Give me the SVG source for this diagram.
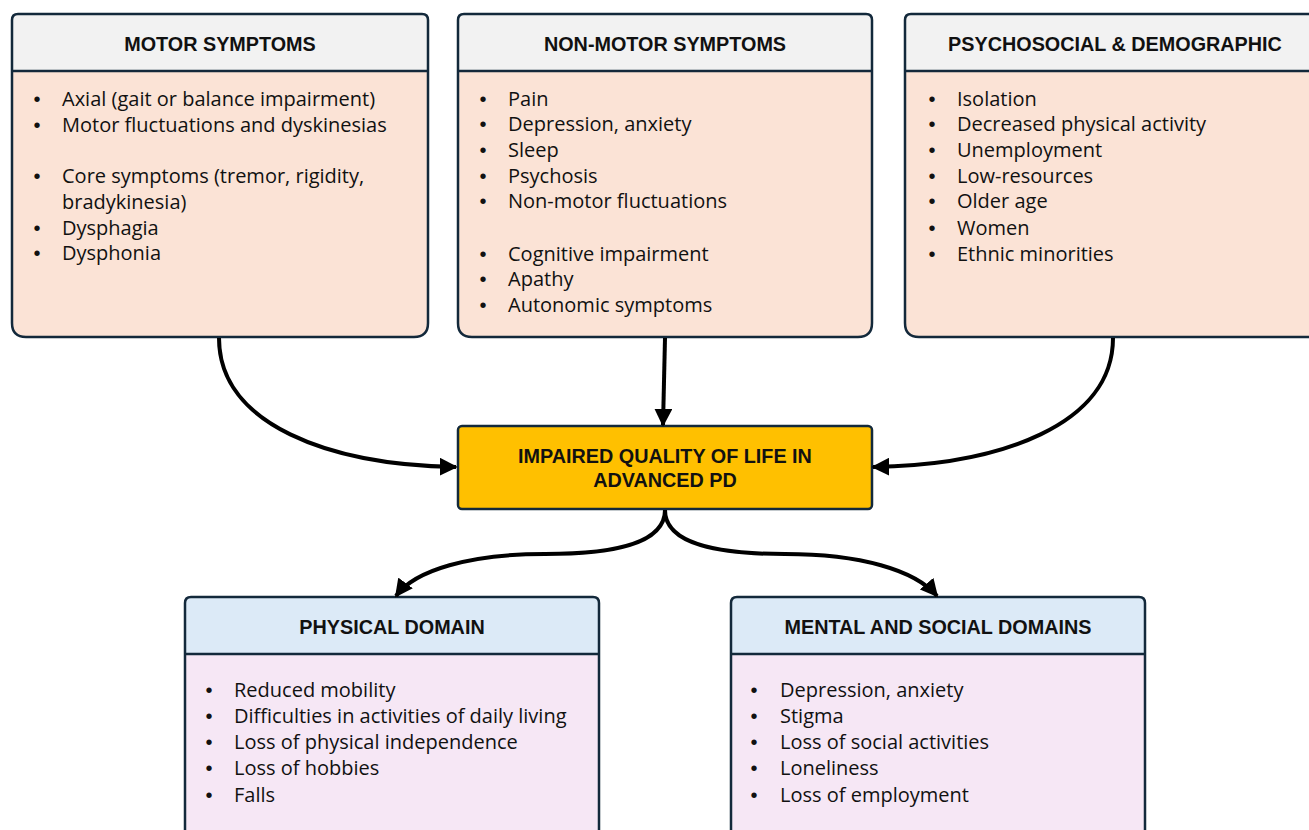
<svg xmlns="http://www.w3.org/2000/svg" width="1309" height="830" viewBox="0 0 1309 830">
<defs>
<marker id="arr" viewBox="0 0 10 10" refX="9" refY="5" markerWidth="4.5" markerHeight="4.5" orient="auto" markerUnits="strokeWidth">
<path d="M0,0 L10,5 L0,10 z" fill="#000"/>
</marker>
<style>
.frame{stroke:#13293b;stroke-width:2.5}
.hdrTop{fill:#F2F2F2}
.bodyTop{fill:#FBE3D6}
.hdrBot{fill:#DCEAF7}
.bodyBot{fill:#F6E7F5}
.title{font-family:"Liberation Sans",Arial,sans-serif;font-weight:bold;font-size:19.8px;fill:#111;text-anchor:middle}
.item{font-family:"Open Sans","Liberation Sans",sans-serif;font-size:20px;fill:#111}
.bul{font-family:"Liberation Sans",Arial,sans-serif;font-size:20px;fill:#111;text-anchor:middle}
.conn{fill:none;stroke:#000;stroke-width:4;marker-end:url(#arr)}
</style>
</defs>
<rect width="1309" height="830" fill="#fff"/>

<g id="motor">
<path class="bodyTop" d="M12,71 H428 V323 Q428,337 414,337 H26 Q12,337 12,323 Z"/>
<path class="hdrTop" d="M12,71 V20 Q12,14 18,14 H422 Q428,14 428,20 V71 Z"/>
<path class="frame" fill="none" d="M12,20 Q12,14 18,14 H422 Q428,14 428,20 V323 Q428,337 414,337 H26 Q12,337 12,323 Z M12,71 H428"/>
<text class="title" x="220" y="51">MOTOR SYMPTOMS</text>
<g class="bul"><text x="37" y="106">•</text><text x="37" y="132">•</text><text x="37" y="183">•</text><text x="37" y="235">•</text><text x="37" y="260">•</text></g>
<g class="item">
<text x="62" y="106">Axial (gait or balance impairment)</text>
<text x="62" y="132">Motor fluctuations and dyskinesias</text>
<text x="62" y="183">Core symptoms (tremor, rigidity,</text>
<text x="62" y="209">bradykinesia)</text>
<text x="62" y="235">Dysphagia</text>
<text x="62" y="260">Dysphonia</text>
</g>
</g>

<g id="nonmotor">
<path class="bodyTop" d="M458,71 H872 V323 Q872,337 858,337 H472 Q458,337 458,323 Z"/>
<path class="hdrTop" d="M458,71 V20 Q458,14 464,14 H866 Q872,14 872,20 V71 Z"/>
<path class="frame" fill="none" d="M458,20 Q458,14 464,14 H866 Q872,14 872,20 V323 Q872,337 858,337 H472 Q458,337 458,323 Z M458,71 H872"/>
<text class="title" x="665" y="51">NON-MOTOR SYMPTOMS</text>
<g class="bul"><text x="483" y="106">•</text><text x="483" y="131">•</text><text x="483" y="157">•</text><text x="483" y="183">•</text><text x="483" y="208">•</text><text x="483" y="261">•</text><text x="483" y="286">•</text><text x="483" y="312">•</text></g>
<g class="item">
<text x="508" y="106">Pain</text>
<text x="508" y="131">Depression, anxiety</text>
<text x="508" y="157">Sleep</text>
<text x="508" y="183">Psychosis</text>
<text x="508" y="208">Non-motor fluctuations</text>
<text x="508" y="261">Cognitive impairment</text>
<text x="508" y="286">Apathy</text>
<text x="508" y="312">Autonomic symptoms</text>
</g>
</g>

<g id="psychosocial">
<path class="bodyTop" d="M905,71 H1321 V323 Q1321,337 1307,337 H919 Q905,337 905,323 Z"/>
<path class="hdrTop" d="M905,71 V20 Q905,14 911,14 H1315 Q1321,14 1321,20 V71 Z"/>
<path class="frame" fill="none" d="M905,20 Q905,14 911,14 H1315 Q1321,14 1321,20 V323 Q1321,337 1307,337 H919 Q905,337 905,323 Z M905,71 H1321"/>
<text class="title" x="1115" y="51">PSYCHOSOCIAL &amp; DEMOGRAPHIC</text>
<g class="bul"><text x="932" y="106">•</text><text x="932" y="131">•</text><text x="932" y="157">•</text><text x="932" y="183">•</text><text x="932" y="208">•</text><text x="932" y="235">•</text><text x="932" y="261">•</text></g>
<g class="item">
<text x="957" y="106">Isolation</text>
<text x="957" y="131">Decreased physical activity</text>
<text x="957" y="157">Unemployment</text>
<text x="957" y="183">Low-resources</text>
<text x="957" y="208">Older age</text>
<text x="957" y="235">Women</text>
<text x="957" y="261">Ethnic minorities</text>
</g>
</g>

<g id="qol">
<rect class="frame" x="458" y="426" width="414" height="83" rx="4" fill="#FFC000"/>
<text class="title" x="665" y="463">IMPAIRED QUALITY OF LIFE IN</text>
<text class="title" x="665" y="487">ADVANCED PD</text>
</g>

<g id="physical">
<path class="bodyBot" d="M185,654 H599 V845 H185 Z"/>
<path class="hdrBot" d="M185,654 V603 Q185,597 191,597 H593 Q599,597 599,603 V654 Z"/>
<path class="frame" fill="none" d="M185,845 V603 Q185,597 191,597 H593 Q599,597 599,603 V845 M185,654 H599"/>
<text class="title" x="392" y="634">PHYSICAL DOMAIN</text>
<g class="bul"><text x="209" y="697">•</text><text x="209" y="723">•</text><text x="209" y="749">•</text><text x="209" y="775">•</text><text x="209" y="802">•</text></g>
<g class="item">
<text x="234" y="697">Reduced mobility</text>
<text x="234" y="723">Difficulties in activities of daily living</text>
<text x="234" y="749">Loss of physical independence</text>
<text x="234" y="775">Loss of hobbies</text>
<text x="234" y="802">Falls</text>
</g>
</g>

<g id="mental">
<path class="bodyBot" d="M731,654 H1145 V845 H731 Z"/>
<path class="hdrBot" d="M731,654 V603 Q731,597 737,597 H1139 Q1145,597 1145,603 V654 Z"/>
<path class="frame" fill="none" d="M731,845 V603 Q731,597 737,597 H1139 Q1145,597 1145,603 V845 M731,654 H1145"/>
<text class="title" x="938" y="634">MENTAL AND SOCIAL DOMAINS</text>
<g class="bul"><text x="754" y="697">•</text><text x="754" y="723">•</text><text x="754" y="749">•</text><text x="754" y="775">•</text><text x="754" y="802">•</text></g>
<g class="item">
<text x="780" y="697">Depression, anxiety</text>
<text x="780" y="723">Stigma</text>
<text x="780" y="749">Loss of social activities</text>
<text x="780" y="775">Loneliness</text>
<text x="780" y="802">Loss of employment</text>
</g>
</g>

<g id="connectors">
<path class="conn" d="M219,338 C219,425 330,465 456,467"/>
<path class="conn" d="M665,338 L663,425"/>
<path class="conn" d="M1113,338 C1113,425 1000,465 873,467"/>
<path class="conn" d="M665,510 C665,545 610,554 545,554 C470,554 415,570 396,596"/>
<path class="conn" d="M665,510 C665,545 720,554 785,554 C860,554 915,570 937,596"/>
</g>
</svg>
